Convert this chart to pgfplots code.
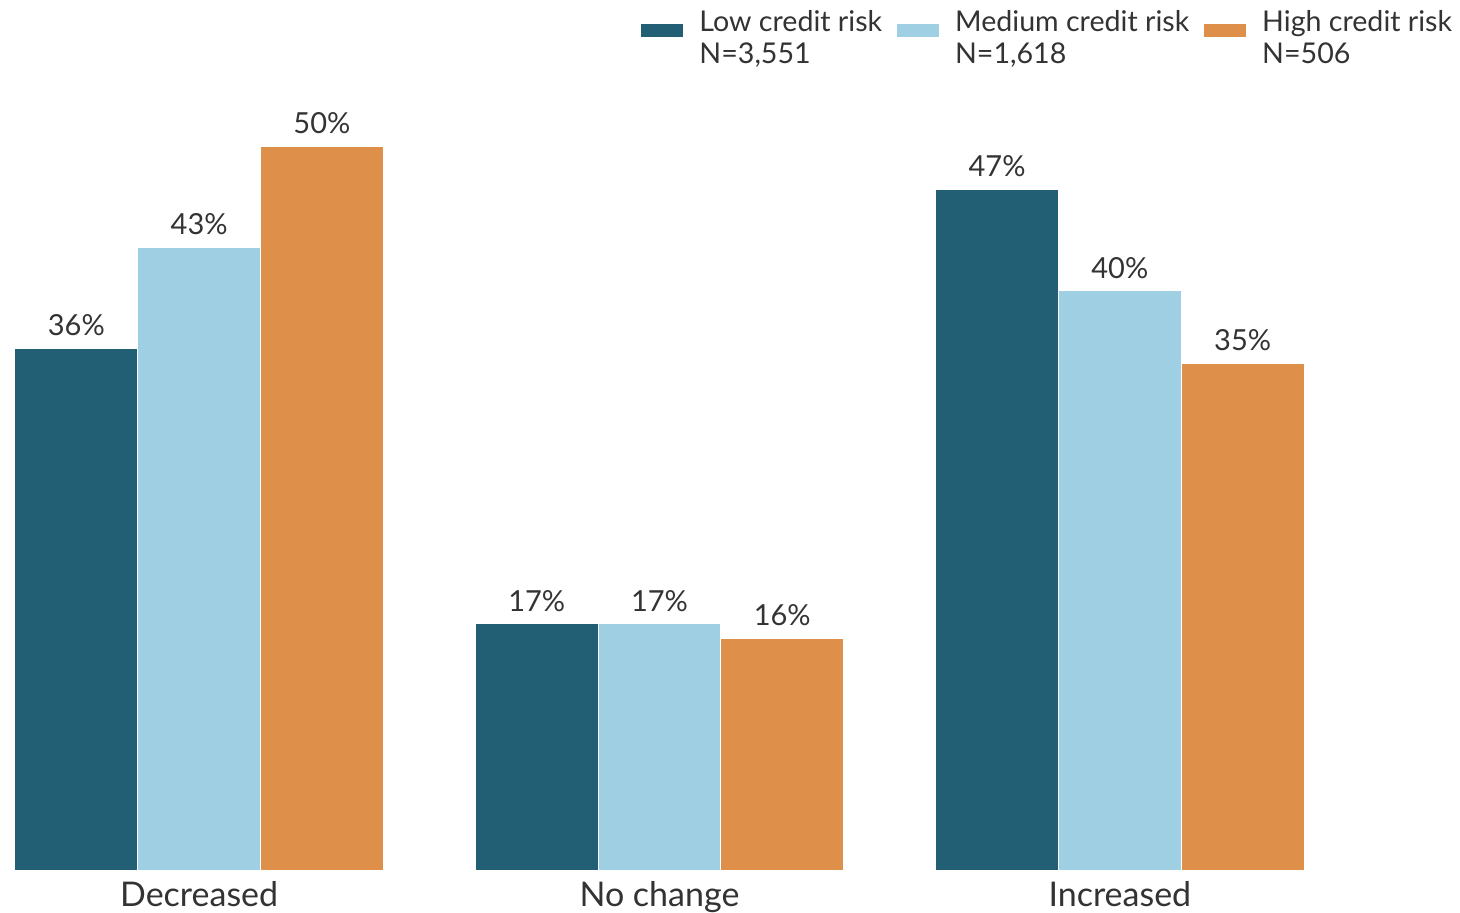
\documentclass[border=0pt]{standalone}
\usepackage{pgfplots}
\pgfplotsset{compat=1.18}
\usepackage{fontspec}
\setmainfont{Lato}
\definecolor{cLow}{HTML}{225F74}
\definecolor{cMed}{HTML}{9ECFE2}
\definecolor{cHigh}{HTML}{DE904B}
\definecolor{txt}{HTML}{333333}
\begin{document}
\begin{tikzpicture}
\begin{axis}[
  at={(0,0)}, anchor=south west,
  scale only axis, width=644.5pt, height=398.2pt,
  xmin=-0.4, xmax=2.4, ymin=0, ymax=55,
  axis line style={draw=none},
  tick style={draw=none},
  ytick=\empty,
  xtick={0,1,2}, xticklabels={Decreased,No change,Increased},
  xticklabel style={font=\fontsize{17}{20}\selectfont, text=txt, anchor=north, inner sep=0pt, yshift=-1.5pt},
  /pgf/number format/assume math mode=true,
  ybar=0pt, bar width=0.2667,
  nodes near coords={\pgfmathprintnumber{\pgfplotspointmeta}\%},
  nodes near coords style={font=\fontsize{14.5}{17}\selectfont, text=txt, anchor=south, inner sep=0pt, yshift=6pt},
  clip=false,
  legend columns=3,
  legend style={at={(0.4857,1.086)}, anchor=north west, draw=none, fill=none, inner sep=0pt,
    font=\fontsize{14.3}{15.8}\selectfont, text=txt,
    /tikz/every even column/.append style={column sep=5.5pt},
    /tikz/every odd column/.append style={column sep=6pt}},
  legend image code/.code={\fill[#1,draw=none] (0pt,-3.25pt) rectangle (21pt,3.25pt);},
]
\addplot[fill=cLow, draw=white, line width=0.5pt, bar shift=-0.2667] coordinates {(0,36) (1,17) (2,47)};
\addlegendentry{\begin{tabular}{@{}l@{}}Low credit risk\\N=3,551\end{tabular}}
\addplot[fill=cMed, draw=white, line width=0.5pt, bar shift=0] coordinates {(0,43) (1,17) (2,40)};
\addlegendentry{\begin{tabular}{@{}l@{}}Medium credit risk\\N=1,618\end{tabular}}
\addplot[fill=cHigh, draw=white, line width=0.5pt, bar shift=0.2667] coordinates {(0,50) (1,16) (2,35)};
\addlegendentry{\begin{tabular}{@{}l@{}}High credit risk\\N=506\end{tabular}}
\end{axis}
\pgfresetboundingbox
\path (-7.5pt,-21pt) rectangle (722.5pt,435pt);
\end{tikzpicture}
\end{document}
